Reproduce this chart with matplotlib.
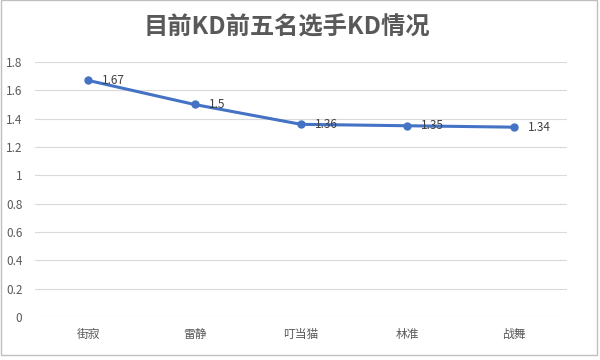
import matplotlib
matplotlib.use("Agg")
import matplotlib.pyplot as plt
from matplotlib.patches import Rectangle

plt.rcParams['font.family'] = ['Noto Sans CJK SC', 'DejaVu Sans']

players = ["街寂", "雷静", "叮当猫", "林准", "战舞"]
kd = [1.67, 1.5, 1.36, 1.35, 1.34]
yticks = [0, 0.2, 0.4, 0.6, 0.8, 1, 1.2, 1.4, 1.6, 1.8]
ytick_labels = ["0", "0.2", "0.4", "0.6", "0.8", "1", "1.2", "1.4", "1.6", "1.8"]

fig = plt.figure(figsize=(6, 3.6), dpi=100)
ax = fig.add_axes([35 / 600, 1 - 317 / 360, 532 / 600, 255 / 360])

x = list(range(len(players)))
ax.plot(x, kd, color="#4472C4", linewidth=2.2, marker="o", markersize=5, zorder=3)
for xi, v in zip(x, kd):
    ax.annotate(f"{v:g}", (xi, v), xytext=(10, 0), textcoords="offset points",
                ha="left", va="center", fontsize=8.5, color="#404040")

ax.set_xlim(-0.5, len(players) - 0.5)
ax.set_ylim(0, 1.8)
ax.set_yticks(yticks)
ax.set_yticklabels(ytick_labels)
ax.set_xticks(x)
ax.set_xticklabels(players)
ax.yaxis.grid(True, color="#D9D9D9", linewidth=0.8)
ax.set_axisbelow(True)
for s in ax.spines.values():
    s.set_visible(False)
ax.tick_params(axis="both", length=0, colors="#595959", labelsize=8.5)
ax.tick_params(axis="x", pad=8)
ax.tick_params(axis="y", pad=9)

fig.text(0.478, 1 - 27 / 360, "目前KD前五名选手KD情况", ha="center", va="center",
         fontsize=17.5, fontweight="bold", color="#595959")

fig.patches.append(Rectangle((1 / 600, 1 - 355 / 360), 596 / 600, 355 / 360,
                             transform=fig.transFigure, fill=False,
                             edgecolor="#BFBFBF", linewidth=1))

fig.savefig("out.png", dpi=100)
